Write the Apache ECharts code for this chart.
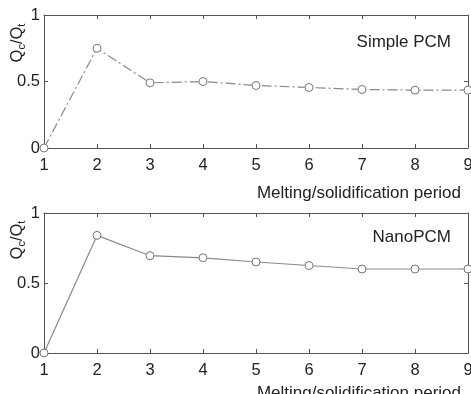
<!DOCTYPE html>
<html><head><meta charset="utf-8">
<script src="https://cdn.jsdelivr.net/npm/echarts@6/dist/echarts.min.js"></script>
<style>html,body{margin:0;padding:0;background:#fff}#c{width:471px;height:394px}</style>
</head><body><div id="c"></div>
<script>
const periods = [1,2,3,4,5,6,7,8,9];
const simplePCM = [0,0.75,0.49,0.5,0.47,0.455,0.44,0.435,0.435];
const nanoPCM = [0,0.84,0.695,0.68,0.65,0.625,0.6,0.6,0.6];
const yTicks = [0,0.5,1];
const titles = ['Simple PCM','NanoPCM'];
const xTitle = 'Melting/solidification period';
const yTitle = '{a|Q}{s|c}{a|/Q}{s|t}';

const chart = echarts.init(document.getElementById('c'));
const font = 'Liberation Sans, Arial, sans-serif';
const fs = 16.5;
const fsT = 17;
const axisCol = '#555';
const grids = [
  {left:44, top:15, width:424, height:133, outerBoundsMode:'none', containLabel:false},
  {left:44, top:213, width:424, height:140, outerBoundsMode:'none', containLabel:false}
];
const xAxes = [], yAxes = [], series = [];
grids.forEach((g,i)=>{
  xAxes.push({type:'value', gridIndex:i, min:1, max:9, interval:1, position:'bottom',
    axisLine:{show:true,onZero:false,lineStyle:{color:axisCol,width:1}},
    axisTick:{inside:true,length:4,lineStyle:{color:axisCol}},
    axisLabel:{color:'#222',fontSize:fs,fontFamily:font,margin:9},
    splitLine:{show:false},
    name:xTitle, nameLocation:'end', nameGap:0, nameMoveOverlap:false,
    nameTextStyle:{color:'#222',fontSize:fsT,fontFamily:font,align:'right',verticalAlign:'top',padding:[i===0?37:32,7,0,0]}});
  xAxes.push({type:'value', gridIndex:i, min:1, max:9, interval:1, position:'top',
    axisLine:{show:true,onZero:false,lineStyle:{color:axisCol,width:1}},
    axisTick:{inside:true,length:4,lineStyle:{color:axisCol}},
    axisLabel:{show:false}, splitLine:{show:false}});
  yAxes.push({type:'value', gridIndex:i, min:0, max:1, interval:0.5, position:'left',
    axisLine:{show:true,onZero:false,lineStyle:{color:axisCol,width:1}},
    axisTick:{inside:true,length:4,lineStyle:{color:axisCol}},
    axisLabel:{color:'#222',fontSize:fs,fontFamily:font,margin:4,
      formatter:v=>yTicks.includes(v)?String(v):''},
    splitLine:{show:false}});
  yAxes.push({type:'value', gridIndex:i, min:0, max:1, interval:0.5, position:'right',
    axisLine:{show:true,onZero:false,lineStyle:{color:axisCol,width:1}},
    axisTick:{inside:true,length:4,lineStyle:{color:axisCol}},
    axisLabel:{show:false}, splitLine:{show:false}});
});
const datas = [simplePCM, nanoPCM];
datas.forEach((d,i)=>{
  series.push({type:'line', xAxisIndex:i*2, yAxisIndex:i*2,
    data:periods.map((p,k)=>[p,d[k]]),
    symbol:'circle', symbolSize:8, showAllSymbol:true,
    itemStyle:{color:'#fff',borderColor:'#777',borderWidth:1},
    lineStyle:{color:'#8a8a8a',width:1.2,type: i===0?[10,3,2,3]:'solid'},
    silent:true, animation:false, z:3});
});
const rich = {a:{fontSize:fs,fontFamily:font,fill:'#222',color:'#222'},
  s:{fontSize:11,fontFamily:font,fill:'#222',color:'#222',padding:[10,0,0,0]}};
chart.setOption({
  animation:false,
  grid:grids,
  xAxis:xAxes,
  yAxis:yAxes,
  series:series,
  graphic:[
    {type:'text', x:17, y:43, rotation:Math.PI/2, silent:true,
      style:{text:yTitle, rich:rich, align:'center', verticalAlign:'middle'}},
    {type:'text', x:17, y:240, rotation:Math.PI/2, silent:true,
      style:{text:yTitle, rich:rich, align:'center', verticalAlign:'middle'}}
  ],
  title:[
    {text:titles[0], right:15, top:29, textStyle:{fontSize:fsT,fontWeight:'normal',fontFamily:font,color:'#222'}},
    {text:titles[1], right:15, top:224, textStyle:{fontSize:fsT,fontWeight:'normal',fontFamily:font,color:'#222'}}
  ]
});
</script></body></html>
